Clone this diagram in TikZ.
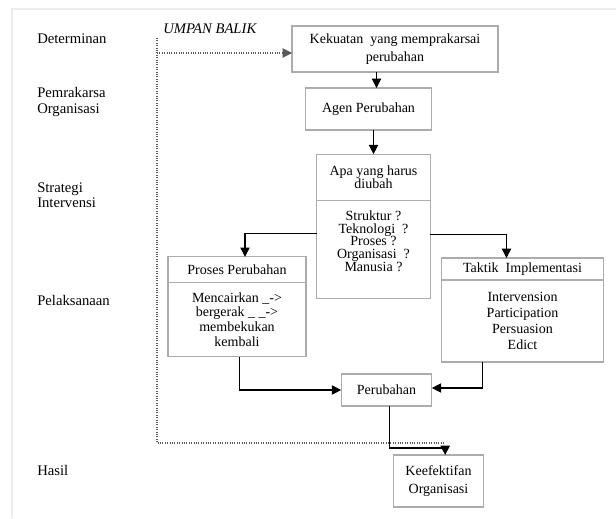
\documentclass[tikz,border=0pt]{standalone}
\usepackage{fontspec}
\setmainfont{Liberation Serif}
\usetikzlibrary{arrows.meta}
\usetikzlibrary{positioning}
\tikzset{>={Triangle[length=7pt,width=7pt]}}

\begin{document}
\begin{tikzpicture}[x=0.75pt,y=-0.75pt,
	box/.style={rectangle, draw=gray!65, line width=0.8pt, outer sep=0pt, inner sep=2pt, align=center, font=\fontsize{10.5}{12}\selectfont},
	level/.style={anchor=west, align=left, inner sep=0pt, font=\fontsize{11}{11.5}\selectfont},
	flow/.style={->, line width=0.8pt},
	feedback/.style={densely dotted, line width=0.8pt, draw=gray!70!black}]
		\useasboundingbox (0,0) rectangle (616,518);
		\draw[gray!15, line width=1pt] (12,518) -- (12,9) -- (616,9);

		% tingkatan di kiri
		\node[level] (det) at (37,39) {Determinan};
		\node[level] (pem) at (37,102) {Pemrakarsa\\Organisasi};
		\node[level] (str) at (37,195) {Strategi\\Intervensi};
		\node[level] (pel) at (37,300) {Pelaksanaan};
		\node[level] (has) at (37,470) {Hasil};
		\node[level, font=\fontsize{11}{12}\selectfont\itshape] (umpan) at (163,29) {UMPAN BALIK};

		% kotak-kotak
		\node[box, minimum width=154.5pt, minimum height=34.5pt, font=\fontsize{10.5}{13}\selectfont] (kekuatan) at (395,49) {Kekuatan\ \ yang memprakarsai\\perubahan};
		\node[box, minimum width=95pt, minimum height=31.5pt] (agen) at (368.5,109) {Agen Perubahan};
		\node[box, minimum width=85pt, minimum height=35pt, font=\fontsize{10.5}{10}\selectfont] (apahead) at (373.5,177.5) {Apa yang harus\\diubah};
		\node[box, minimum width=85pt, minimum height=73pt, font=\fontsize{10.5}{9.6}\selectfont, below=0pt of apahead] (apabody) {Struktur ?\\Teknologi\ \ ?\\Proses ?\\Organisasi\ \ ?\\Manusia ?\\[3pt]};
		\node[box, minimum width=103.5pt, minimum height=19pt] (proseshead) at (237,269.5) {Proses Perubahan};
		\node[box, minimum width=103.5pt, minimum height=56pt, font=\fontsize{10.5}{11}\selectfont, below=0pt of proseshead] (prosesbody) {Mencairkan \_->\\bergerak \_ \_->\\membekukan\\kembali};
		\node[box, minimum width=122pt, minimum height=16.5pt] (taktikhead) at (522.5,269) {Taktik\ \ Implementasi};
		\node[box, minimum width=122pt, minimum height=61.5pt, below=0pt of taktikhead] (taktikbody) {Intervension\\Participation\\Persuasion\\Edict};
		\node[box, minimum width=68pt, minimum height=24pt] (perubahan) at (386.5,390) {Perubahan};
		\node[box, minimum width=67pt, minimum height=39pt, font=\fontsize{10.5}{13.5}\selectfont] (keef) at (438.5,481) {Keefektifan\\Organisasi};

		% alur
		\draw[flow] ([xshift=6pt]agen.north |- kekuatan.south) -- ([xshift=6pt]agen.north);
		\draw[flow] (agen.south -| apahead) -- (apahead.north);
		\draw[flow] ([yshift=12pt]apabody.west) -| ([xshift=6pt]proseshead.north);
		\draw[flow] ([yshift=11pt]apabody.east) -| ([xshift=-12pt]taktikhead.north);
		\draw[flow] ([xshift=2pt]prosesbody.south) |- (perubahan.west);
		\draw[flow] ([xshift=-30pt]taktikbody.south) |- ([yshift=1.5pt]perubahan.east);
		\coordinate (drop) at ([xshift=5pt]keef.north);
		\draw[flow] ([xshift=2.5pt]perubahan.south) -- ++(0,42) -| (drop);

		% umpan balik
		\coordinate (fbtop) at (157,38);
		\coordinate (fbcorner) at (157,443);
		\draw[feedback] (fbtop) -- (fbcorner) -- (fbcorner -| drop);
		\draw[feedback, ->] (fbtop |- kekuatan.west) ++(0,4) -- ([yshift=-3pt]kekuatan.west);
\end{tikzpicture}
\end{document}
